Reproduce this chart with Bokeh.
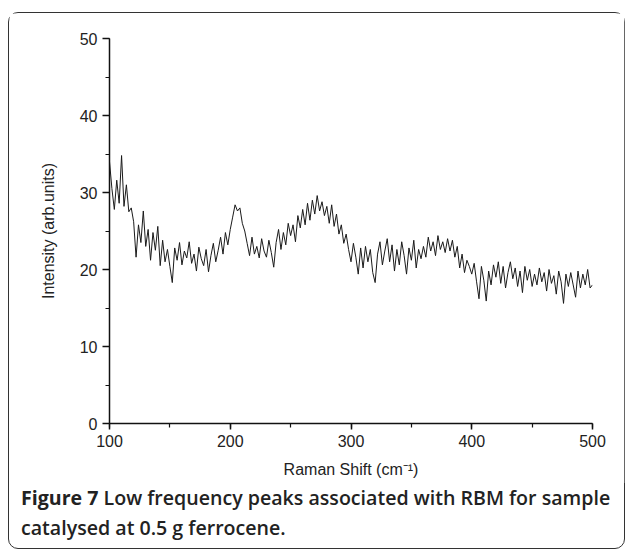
from bokeh.plotting import figure
from bokeh.models import Range1d, SingleIntervalTicker, Div
from bokeh.layouts import column
from bokeh.embed import file_html
from bokeh.resources import INLINE

# Raman shift sampling (cm^-1), every 2 cm^-1
shift = list(range(100, 501, 2))

# Intensity values (arb. units)
intensity = [
    34.0, 30.5, 27.8, 31.6, 28.6, 34.8, 28.2, 31.0, 27.5, 28.0,   # 100-118
    26.2, 21.6, 25.8, 23.5, 27.6, 23.0, 25.2, 21.2, 24.8, 22.5,   # 120-138
    25.6, 20.5, 23.8, 21.0, 22.6, 20.4, 18.3, 22.8, 21.2, 23.5,   # 140-158
    20.6, 22.4, 21.5, 23.6, 20.8, 22.0, 19.8, 22.9, 21.4, 20.5,   # 160-178
    22.6, 19.7, 21.8, 23.4, 21.0, 22.5, 24.2, 22.0, 24.8, 23.2,   # 180-198
    25.2, 26.8, 28.4, 27.6, 28.0, 26.0, 25.0, 23.4, 21.8, 24.2,   # 200-218
    22.0, 23.0, 21.5, 24.0, 22.4, 21.6, 23.8, 22.2, 20.3, 23.5,   # 220-238
    25.2, 22.6, 24.8, 23.2, 26.0, 24.4, 25.8, 23.6, 27.0, 25.4,   # 240-258
    27.8, 25.8, 28.6, 26.4, 29.0, 27.2, 29.6, 27.6, 28.8, 27.0,   # 260-278
    28.2, 26.0, 28.4, 25.6, 27.2, 24.6, 25.8, 23.4, 24.6, 22.6,   # 280-298
    21.0, 23.4, 21.6, 19.4, 22.8, 20.2, 23.0, 21.0, 22.6, 19.6,   # 300-318
    18.3, 22.0, 23.6, 20.6, 22.4, 24.0, 21.0, 23.2, 19.8, 22.6,   # 320-338
    20.6, 23.6, 21.8, 19.4, 22.8, 21.2, 23.8, 20.2, 22.6, 21.4,   # 340-358
    23.0, 21.6, 24.2, 22.4, 23.6, 21.8, 24.4, 22.6, 23.6, 22.2,   # 360-378
    24.0, 22.4, 23.8, 21.6, 23.0, 20.2, 22.0, 19.6, 21.2, 20.4,   # 380-398
    19.4, 20.8, 18.4, 16.2, 20.4, 18.6, 15.9, 19.8, 18.0, 20.6,   # 400-418
    19.0, 21.0, 18.2, 20.4, 17.6, 19.6, 21.0, 18.8, 20.2, 17.8,   # 420-438
    19.8, 17.0, 20.4, 18.6, 20.0, 17.8, 19.4, 18.0, 20.2, 18.4,   # 440-458
    19.6, 17.2, 20.0, 18.2, 19.2, 16.8, 19.8, 18.4, 15.6, 19.4,   # 460-478
    17.8, 19.6, 18.0, 16.4, 19.8, 17.6, 19.4, 18.0, 20.0, 17.6,   # 480-498
    18.0,                                                         # 500
]

x_ticks_interval = 100
y_ticks_interval = 10
x_title = "Raman Shift (cm\u207b\u00b9)"
y_title = "Intensity (arb.units)"
caption_bold = "Figure 7"
caption_line1 = "Low frequency peaks associated with RBM for sample"
caption_line2 = "catalysed at 0.5 g ferrocene."

p = figure(
    frame_width=485, frame_height=385,
    min_border_left=100, min_border_right=32, min_border_top=25, min_border_bottom=60,
    x_range=Range1d(100, 500), y_range=Range1d(0, 50),
    output_backend="svg", toolbar_location=None,
)
p.outline_line_color = None
p.xgrid.visible = False
p.ygrid.visible = False
p.background_fill_color = "white"
p.border_fill_color = "white"

p.line(shift, intensity, line_color="#1a1a1a", line_width=1)

p.xaxis.ticker = SingleIntervalTicker(interval=x_ticks_interval, num_minor_ticks=2)
p.yaxis.ticker = SingleIntervalTicker(interval=y_ticks_interval, num_minor_ticks=2)
p.xaxis.axis_label = x_title
p.yaxis.axis_label = y_title

for ax in (p.xaxis, p.yaxis):
    ax.axis_line_color = "#111111"
    ax.axis_line_width = 1.5
    ax.major_tick_line_color = "#111111"
    ax.major_tick_line_width = 1.5
    ax.minor_tick_line_color = "#111111"
    ax.minor_tick_line_width = 1.2
    ax.major_tick_in = 0
    ax.minor_tick_in = 0
    ax.minor_tick_out = 4
    ax.major_label_text_font = "Liberation Sans"
    ax.major_label_text_font_size = "16px"
    ax.major_label_text_color = "#222222"
    ax.axis_label_text_font = "Liberation Sans"
    ax.axis_label_text_font_size = "16px"
    ax.axis_label_text_font_style = "normal"
    ax.axis_label_text_color = "#222222"

p.xaxis.major_tick_out = 6
p.yaxis.major_tick_out = 7
p.xaxis.major_label_standoff = 5
p.yaxis.major_label_standoff = 5
p.xaxis.axis_label_standoff = 11
p.yaxis.axis_label_standoff = 20

cap = Div(
    text=(
        '<div style="white-space:nowrap">'
        f'<b>{caption_bold}</b><span style="font-weight:600"> {caption_line1}</span></div>'
        f'<div style="font-weight:600">{caption_line2}</div>'
    ),
    width=590,
    styles={
        "font-family": "Open Sans",
        "font-size": "19.6px",
        "line-height": "30px",
        "color": "#222222",
        "margin-left": "12px",
        "margin-top": "0px",
    },
)

layout = column(
    p, cap,
    styles={
        "border": "1.5px solid #333333",
        "border-radius": "10px",
        "margin": "12px 0 0 8px",
        "width": "617px",
        "height": "537px",
        "background": "white",
    },
)

open("out.html", "w").write(file_html(layout, INLINE))
